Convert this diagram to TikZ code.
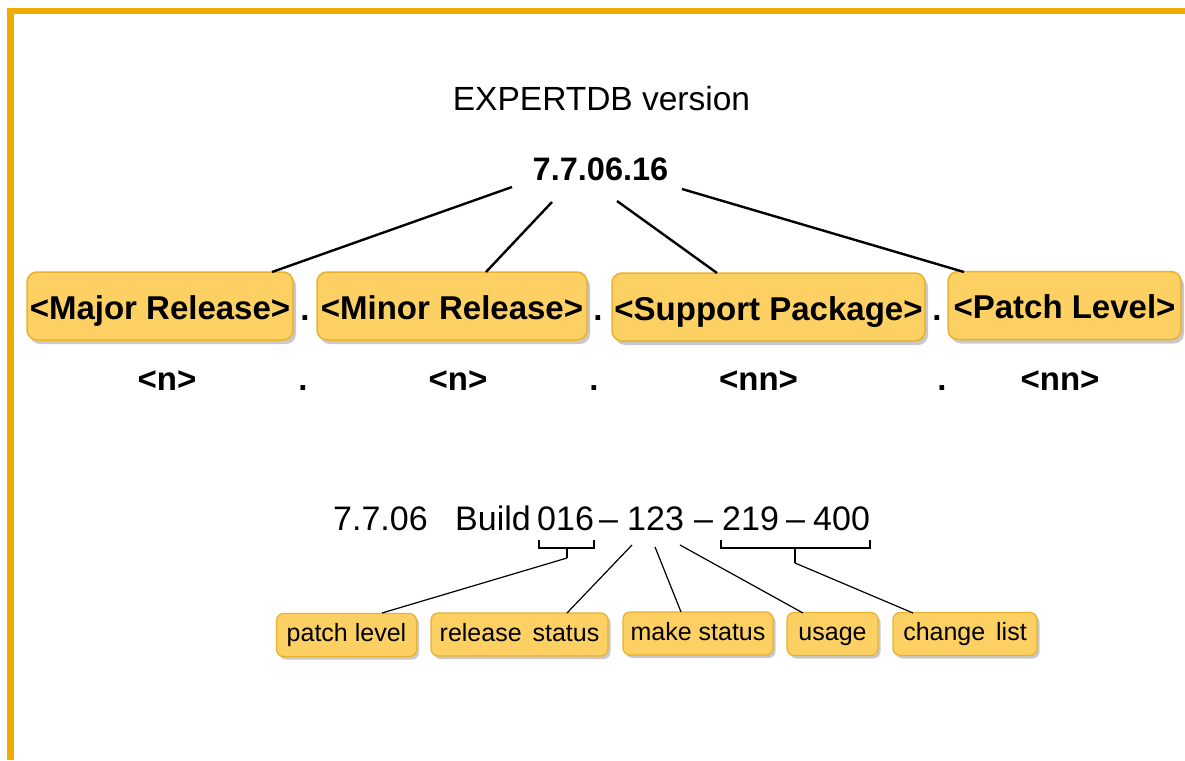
\documentclass[tikz,border=0pt]{standalone}
\usepackage{fontspec}
\setmainfont{Liberation Sans}
\usetikzlibrary{shadows}
\definecolor{frameor}{HTML}{F0AC00}
\definecolor{boxfill}{HTML}{FDD064}
\definecolor{boxdraw}{HTML}{E8B12E}
\definecolor{thin}{HTML}{707070}
\tikzset{
  bigbox/.style={draw=boxdraw, line width=1.5pt, fill=boxfill, rounded corners=10pt,
    inner sep=0pt, minimum height=68pt, text height=28pt, text depth=2pt,
    font=\fontsize{33}{36}\selectfont\bfseries,
    drop shadow={shadow xshift=3pt, shadow yshift=-4pt, opacity=0.35, fill=black!60}},
  smallbox/.style={draw=boxdraw, line width=1.2pt, fill=boxfill, rounded corners=7pt,
    inner sep=0pt, minimum height=43pt, text height=18pt, text depth=5pt,
    font=\fontsize{25}{28}\selectfont,
    drop shadow={shadow xshift=2.5pt, shadow yshift=-3pt, opacity=0.35, fill=black!60}},
  boldtxt/.style={inner sep=0pt, anchor=base, font=\fontsize{33}{36}\selectfont\bfseries},
  plaintxt/.style={inner sep=0pt, anchor=base west, font=\fontsize{34}{38}\selectfont},
  mainline/.style={black, line width=2.4pt},
  thinline/.style={thin, line width=1.2pt},
}
\begin{document}
\begin{tikzpicture}[x=1pt, y=-1pt]
\useasboundingbox (0,0) rectangle (1185,760);
\fill[white] (0,0) rectangle (1185,760);
% frame
\fill[frameor] (7,8) rectangle (1185,14.5);
\fill[frameor] (7,8) rectangle (13.5,760);

% titles
\node[inner sep=0pt, anchor=base, font=\fontsize{33.5}{36}\selectfont] (title) at (601.5,110.7) {EXPERTDB version};
\node[inner sep=0pt, anchor=base, font=\fontsize{32.5}{36}\selectfont\bfseries] (ver) at (600.5,180) {7.7.06.16};

% big boxes
\node[bigbox, minimum width=266pt] (maj) at (160,306) {<Major Release>};
\node[bigbox, minimum width=270pt] (min) at (452,306) {<Minor Release>};
\node[bigbox, minimum width=313pt] (sup) at (768.5,307) {<Support Package>};
\node[bigbox, minimum width=233pt] (pat) at (1064.5,305.5) {<Patch Level>};

\node[boldtxt] (d1) at (305,320) {.};
\node[boldtxt] (d2) at (598,320) {.};
\node[boldtxt] (d3) at (937,320) {.};

% connector points
\coordinate (v1) at (512,187);
\coordinate (v2) at (552,202);
\coordinate (v3) at (617,201);
\coordinate (v4) at (682,189);
\coordinate (m1) at (272,272);
\coordinate (m2) at (486,272);
\coordinate (m3) at (717,273);
\coordinate (m4) at (964,272);
\draw[mainline] (v1) -- (m1);
\draw[mainline] (v2) -- (m2);
\draw[mainline] (v3) -- (m3);
\draw[mainline] (v4) -- (m4);

% format row
\node[boldtxt] (f1) at (167,390) {<n>};
\node[boldtxt] (fd1) at (303,390) {.};
\node[boldtxt] (f2) at (458,390) {<n>};
\node[boldtxt] (fd2) at (594,390) {.};
\node[boldtxt] (f3) at (758.5,390) {<nn>};
\node[boldtxt] (fd3) at (942,390) {.};
\node[boldtxt] (f4) at (1060,390) {<nn>};

% build line
\node[plaintxt] (bv) at (333,530) {7.7.06};
\node[plaintxt] (bw) at (455,530) {Build};
\node[plaintxt] (n1) at (537,530) {016};
\node[plaintxt] (h1) at (599,530) {–};
\node[plaintxt] (n2) at (627,530) {123};
\node[plaintxt] (h2) at (694,530) {–};
\node[plaintxt] (n3) at (722,530) {219};
\node[plaintxt] (h3) at (786,530) {–};
\node[plaintxt] (n4) at (813,530) {400};

% braces
\coordinate (b1a) at (539,540);
\coordinate (b1b) at (594,540);
\coordinate (b1t) at (567,558);
\coordinate (b2a) at (721,540);
\coordinate (b2b) at (870,540);
\coordinate (b2t) at (795,563);
\draw[thinline] (b1a) -- (539,548) -- (567,548) -- (b1t);
\draw[thinline] (b1b) -- (594,548) -- (567,548);
\draw[thinline] (b2a) -- (721,548) -- (795,548) -- (b2t);
\draw[thinline] (b2b) -- (870,548) -- (795,548);

% small boxes
\node[smallbox, minimum width=140pt] (pl) at (346.5,635) {patch level};
\node[smallbox, minimum width=177pt] (rs) at (519.5,634.5) {release\hspace{4pt} status};
\node[smallbox, minimum width=150pt] (ms) at (698,633.5) {make status};
\node[smallbox, minimum width=91pt] (us) at (832.5,634) {usage};
\node[smallbox, minimum width=144pt] (cl) at (965,634) {change\hspace{4pt} list};

% thin connectors
\coordinate (t2) at (632,545);
\coordinate (t3) at (655,547);
\coordinate (t4) at (680,545);
\coordinate (e1) at (382,613);
\coordinate (e2) at (567,613);
\coordinate (e3) at (681,612);
\coordinate (e4) at (803,613);
\coordinate (e5) at (913,613);
\draw[thinline] (b1t) -- (e1);
\draw[thinline] (t2) -- (e2);
\draw[thinline] (t3) -- (e3);
\draw[thinline] (t4) -- (e4);
\draw[thinline] (b2t) -- (e5);
\end{tikzpicture}
\end{document}
